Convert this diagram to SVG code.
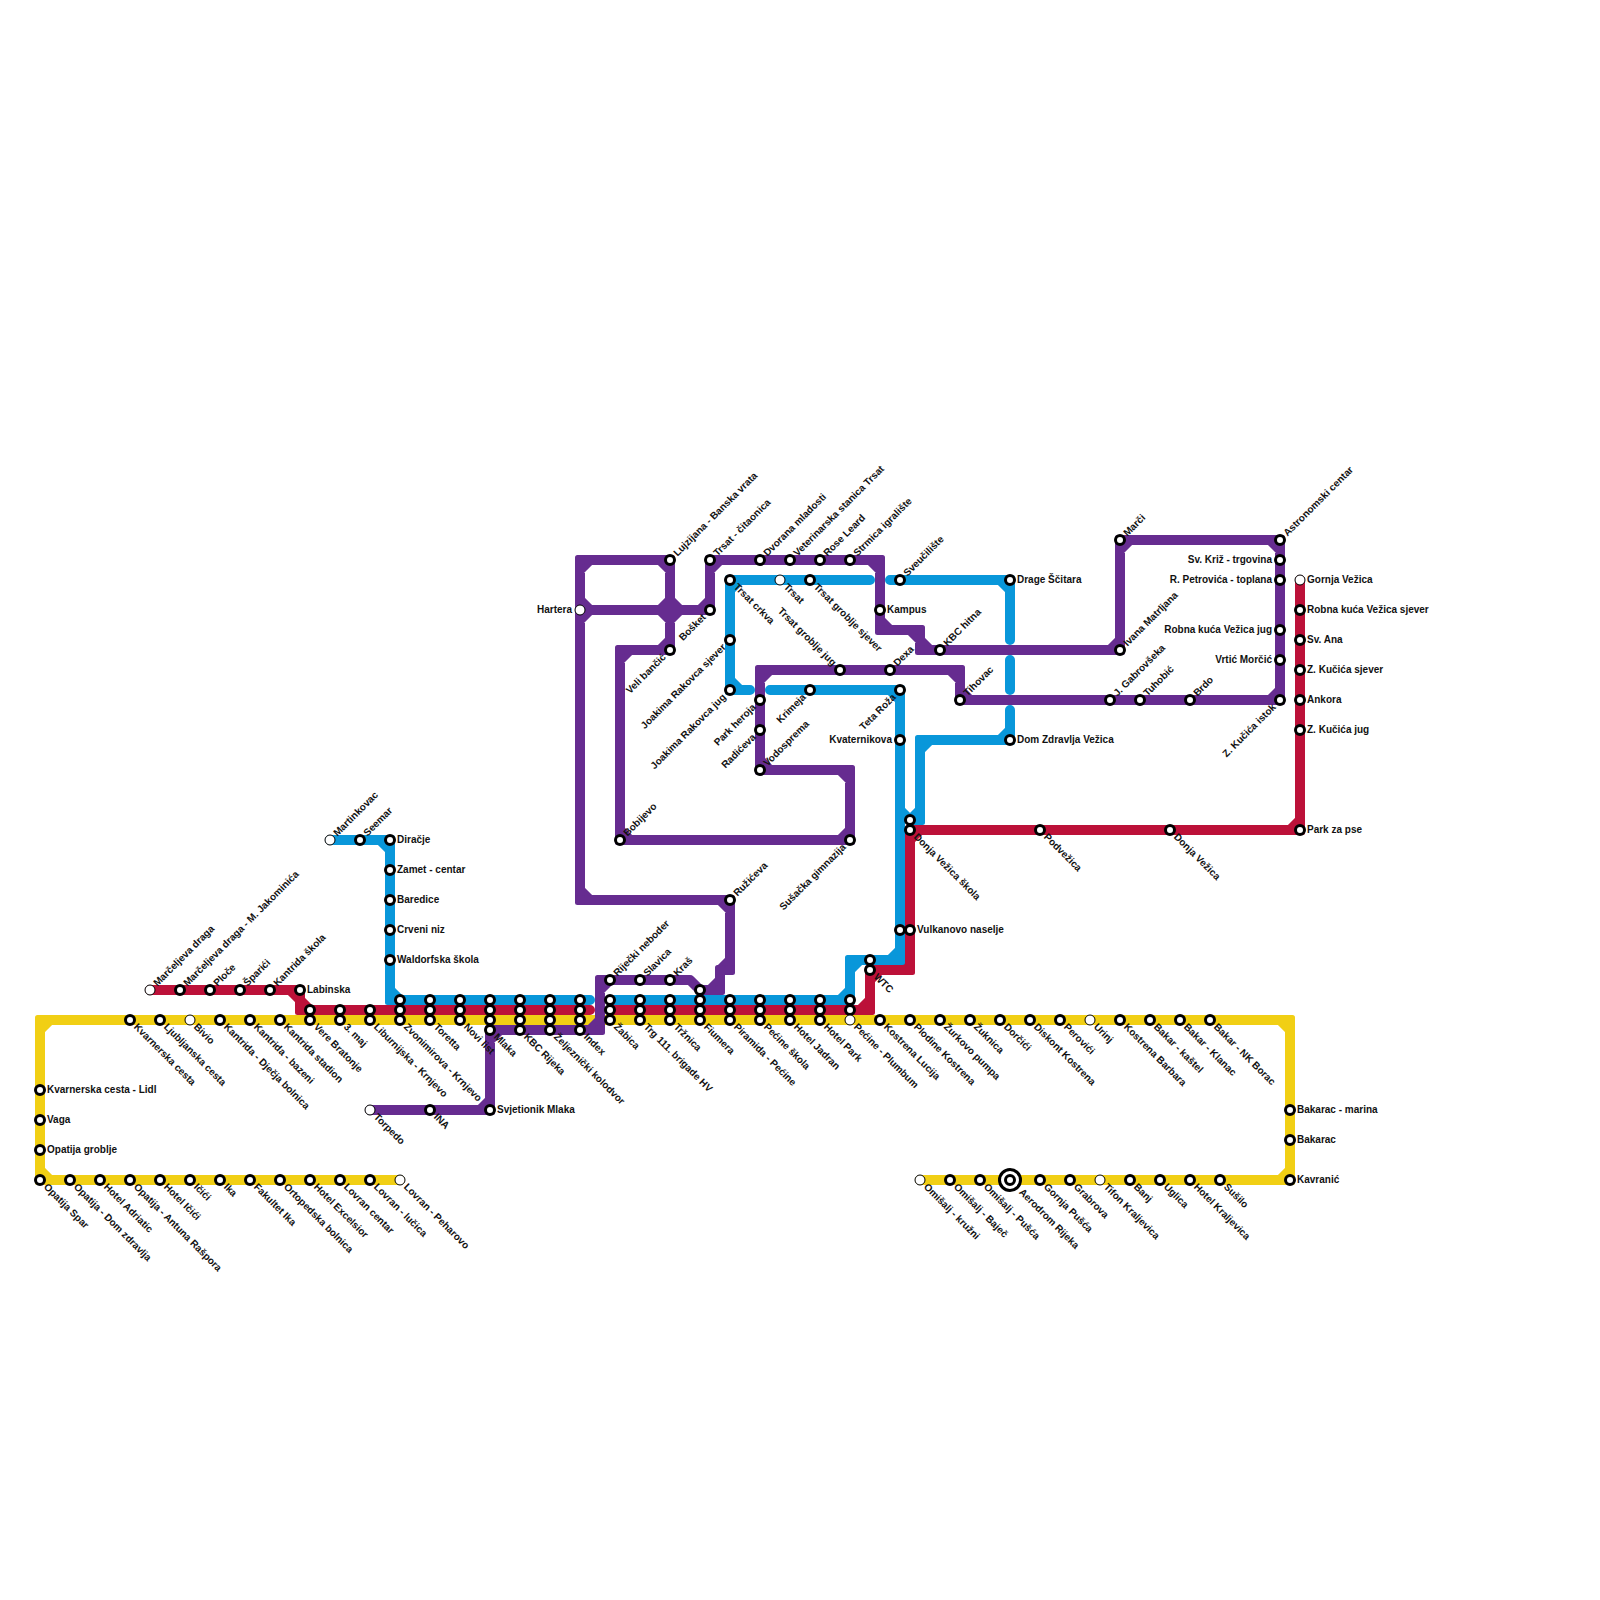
<svg xmlns="http://www.w3.org/2000/svg" width="1600" height="1600" viewBox="0 0 1600 1600">
<style>
.l{fill:none;stroke-width:10;stroke-linecap:round;stroke-linejoin:round}
.y{stroke:#f1cf14}.r{stroke:#bc1139}.b{stroke:#0997da}.p{stroke:#662c90}
.fy{fill:#f1cf14}.fr{fill:#bc1139}.fb{fill:#0997da}.fp{fill:#662c90}
.s{fill:#fff;stroke:#000;stroke-width:3}
.t{fill:#fff;stroke:#000;stroke-width:1}
text{font-family:"Liberation Sans",Arial,sans-serif;font-size:10px;font-weight:bold;fill:#111}
.e{text-anchor:end}
</style>
<defs>
<circle id="st" r="4.5" class="s"/>
<circle id="te" r="5" class="t"/>
<rect id="c" x="-5" y="-5" width="10" height="10" rx="2.5"/>
</defs>
<g id="connectors">
<g id="line-yellow" class="fy">
<path class="l y" d="M400 1180H40V1020H1290V1180H920M50 1180L40 1170M40 1030L50 1020M1280 1020L1290 1030M1290 1170L1280 1180"/>
<use href="#c" x="40" y="1020"/><use href="#c" x="1290" y="1020"/><use href="#c" x="40" y="1180"/><use href="#c" x="1290" y="1180"/>
</g>
<g id="line-red" class="fr">
<path class="l r" d="M150 990H300V1010H590M290 990L300 1000L310 1010M610 1010H870V970H910V830H1300V580M860 1010L870 1000M870 980L880 970M900 970L910 960M910 840L920 830M1290 830L1300 820"/>
<use href="#c" x="300" y="990"/><use href="#c" x="300" y="1010"/><use href="#c" x="870" y="1010"/><use href="#c" x="870" y="970"/><use href="#c" x="910" y="970"/><use href="#c" x="910" y="830"/><use href="#c" x="1300" y="830"/>
</g>
<g id="line-blue" class="fb">
<path class="l b" d="M330 840H390V1000H590M380 840L390 850M390 990L400 1000M610 1000H850V960H900V690H770M840 1000L850 990M850 970L860 960M890 960L900 950M890 690L900 700M750 690H730V580H870M730 680L740 690M730 590L740 580M890 580H1010V640M1000 580L1010 590M1010 660V690M1010 710V740H920V820H910L900 810M1000 740L1010 730M920 750L930 740M910 820L920 810"/>
<use href="#c" x="390" y="840"/><use href="#c" x="390" y="1000"/><use href="#c" x="850" y="1000"/><use href="#c" x="850" y="960"/><use href="#c" x="900" y="960"/><use href="#c" x="900" y="690"/><use href="#c" x="730" y="690"/><use href="#c" x="730" y="580"/><use href="#c" x="1010" y="580"/><use href="#c" x="1010" y="740"/><use href="#c" x="920" y="740"/><use href="#c" x="920" y="820"/>
</g>
<g id="line-purple" class="fp">
<path class="l p" d="M370 1110H490V1030H600V980H690L700 990H720V970H730V900H580V560H670V650H620V840H850V770H760V670H960V700H1280V540H1120V650H920V630H880V560H710V610H580M480 1110L490 1100M490 1040L500 1030M590 1030L600 1020M600 990L610 980M710 990L720 980M720 970L730 960M720 900L730 910M580 890L590 900M580 570L590 560M660 560L670 570M670 640L660 650M620 660L630 650M620 830L630 840M840 840L850 830M840 770L850 780M760 760L770 770M760 680L770 670M950 670L960 680M960 690L970 700M1270 700L1280 690M1270 540L1280 550M1120 550L1130 540M1110 650L1120 640M920 640L930 650M910 630L920 640M880 620L890 630M870 560L880 570M710 570L720 560M700 610L710 600M580 600L590 610M580 620L590 610M660 610L670 600L680 610L670 620Z"/>
<use href="#c" x="490" y="1110"/><use href="#c" x="490" y="1030"/><use href="#c" x="600" y="1030"/><use href="#c" x="600" y="980"/><use href="#c" x="720" y="990"/><use href="#c" x="720" y="970"/><use href="#c" x="730" y="970"/><use href="#c" x="730" y="900"/><use href="#c" x="580" y="900"/><use href="#c" x="580" y="560"/><use href="#c" x="670" y="560"/><use href="#c" x="670" y="650"/><use href="#c" x="620" y="650"/><use href="#c" x="620" y="840"/><use href="#c" x="850" y="840"/><use href="#c" x="850" y="770"/><use href="#c" x="760" y="770"/><use href="#c" x="760" y="670"/><use href="#c" x="960" y="670"/><use href="#c" x="960" y="700"/><use href="#c" x="1280" y="700"/><use href="#c" x="1280" y="540"/><use href="#c" x="1120" y="540"/><use href="#c" x="1120" y="650"/><use href="#c" x="920" y="650"/><use href="#c" x="920" y="630"/><use href="#c" x="880" y="630"/><use href="#c" x="880" y="560"/><use href="#c" x="710" y="560"/><use href="#c" x="710" y="610"/>
</g>
</g>
<g id="stations">
<use href="#te" x="150" y="990"/><use href="#st" x="180" y="990"/><use href="#st" x="210" y="990"/><use href="#st" x="240" y="990"/><use href="#st" x="270" y="990"/><use href="#st" x="300" y="990"/>
<use href="#te" x="330" y="840"/><use href="#st" x="360" y="840"/><use href="#st" x="390" y="840"/><use href="#st" x="390" y="870"/><use href="#st" x="390" y="900"/><use href="#st" x="390" y="930"/><use href="#st" x="390" y="960"/>
<use href="#st" x="130" y="1020"/><use href="#st" x="160" y="1020"/><use href="#te" x="190" y="1020"/><use href="#st" x="220" y="1020"/><use href="#st" x="250" y="1020"/><use href="#st" x="280" y="1020"/>
<use href="#st" x="310" y="1010"/><use href="#st" x="310" y="1020"/><use href="#st" x="340" y="1010"/><use href="#st" x="340" y="1020"/><use href="#st" x="370" y="1010"/><use href="#st" x="370" y="1020"/>
<use href="#st" x="400" y="1000"/><use href="#st" x="400" y="1010"/><use href="#st" x="400" y="1020"/>
<use href="#st" x="430" y="1000"/><use href="#st" x="430" y="1010"/><use href="#st" x="430" y="1020"/>
<use href="#st" x="460" y="1000"/><use href="#st" x="460" y="1010"/><use href="#st" x="460" y="1020"/>
<use href="#st" x="490" y="1000"/><use href="#st" x="490" y="1010"/><use href="#st" x="490" y="1020"/><use href="#st" x="490" y="1030"/>
<use href="#st" x="520" y="1000"/><use href="#st" x="520" y="1010"/><use href="#st" x="520" y="1020"/><use href="#st" x="520" y="1030"/>
<use href="#st" x="550" y="1000"/><use href="#st" x="550" y="1010"/><use href="#st" x="550" y="1020"/><use href="#st" x="550" y="1030"/>
<use href="#st" x="580" y="1000"/><use href="#st" x="580" y="1010"/><use href="#st" x="580" y="1020"/><use href="#st" x="580" y="1030"/>
<use href="#st" x="610" y="1000"/><use href="#st" x="610" y="1010"/><use href="#st" x="610" y="1020"/>
<use href="#st" x="640" y="1000"/><use href="#st" x="640" y="1010"/><use href="#st" x="640" y="1020"/>
<use href="#st" x="670" y="1000"/><use href="#st" x="670" y="1010"/><use href="#st" x="670" y="1020"/>
<use href="#st" x="700" y="990"/><use href="#st" x="700" y="1000"/><use href="#st" x="700" y="1010"/><use href="#st" x="700" y="1020"/>
<use href="#st" x="730" y="1000"/><use href="#st" x="730" y="1010"/><use href="#st" x="730" y="1020"/>
<use href="#st" x="760" y="1000"/><use href="#st" x="760" y="1010"/><use href="#st" x="760" y="1020"/>
<use href="#st" x="790" y="1000"/><use href="#st" x="790" y="1010"/><use href="#st" x="790" y="1020"/>
<use href="#st" x="820" y="1000"/><use href="#st" x="820" y="1010"/><use href="#st" x="820" y="1020"/>
<use href="#st" x="850" y="1000"/><use href="#st" x="850" y="1010"/><use href="#te" x="850" y="1020"/>
<use href="#st" x="880" y="1020"/><use href="#st" x="910" y="1020"/><use href="#st" x="940" y="1020"/><use href="#st" x="970" y="1020"/><use href="#st" x="1000" y="1020"/><use href="#st" x="1030" y="1020"/><use href="#st" x="1060" y="1020"/><use href="#te" x="1090" y="1020"/><use href="#st" x="1120" y="1020"/><use href="#st" x="1150" y="1020"/><use href="#st" x="1180" y="1020"/><use href="#st" x="1210" y="1020"/>
<use href="#st" x="1290" y="1110"/><use href="#st" x="1290" y="1140"/><use href="#st" x="1290" y="1180"/>
<use href="#te" x="920" y="1180"/><use href="#st" x="950" y="1180"/><use href="#st" x="980" y="1180"/>
<g id="aerodrom"><circle cx="1010" cy="1180" r="10.5" fill="#fff" stroke="#000" stroke-width="3"/><circle cx="1010" cy="1180" r="4.5" class="s"/></g>
<use href="#st" x="1040" y="1180"/><use href="#st" x="1070" y="1180"/><use href="#te" x="1100" y="1180"/><use href="#st" x="1130" y="1180"/><use href="#st" x="1160" y="1180"/><use href="#st" x="1190" y="1180"/><use href="#st" x="1220" y="1180"/>
<use href="#st" x="40" y="1090"/><use href="#st" x="40" y="1120"/><use href="#st" x="40" y="1150"/><use href="#st" x="40" y="1180"/>
<use href="#st" x="70" y="1180"/><use href="#st" x="100" y="1180"/><use href="#st" x="130" y="1180"/><use href="#st" x="160" y="1180"/><use href="#st" x="190" y="1180"/><use href="#st" x="220" y="1180"/><use href="#st" x="250" y="1180"/><use href="#st" x="280" y="1180"/><use href="#st" x="310" y="1180"/><use href="#st" x="340" y="1180"/><use href="#st" x="370" y="1180"/><use href="#te" x="400" y="1180"/>
<use href="#te" x="370" y="1110"/><use href="#st" x="430" y="1110"/><use href="#st" x="490" y="1110"/>
<use href="#st" x="610" y="980"/><use href="#st" x="640" y="980"/><use href="#st" x="670" y="980"/><use href="#st" x="730" y="900"/>
<use href="#st" x="620" y="840"/><use href="#st" x="850" y="840"/><use href="#st" x="760" y="770"/><use href="#st" x="760" y="730"/><use href="#st" x="760" y="700"/>
<use href="#st" x="840" y="670"/><use href="#st" x="890" y="670"/><use href="#st" x="960" y="700"/><use href="#st" x="1110" y="700"/><use href="#st" x="1140" y="700"/><use href="#st" x="1190" y="700"/><use href="#st" x="1280" y="700"/><use href="#st" x="1280" y="660"/><use href="#st" x="1280" y="630"/><use href="#st" x="1280" y="580"/><use href="#st" x="1280" y="560"/><use href="#st" x="1280" y="540"/><use href="#st" x="1120" y="540"/><use href="#st" x="1120" y="650"/><use href="#st" x="940" y="650"/><use href="#st" x="880" y="610"/>
<use href="#st" x="850" y="560"/><use href="#st" x="820" y="560"/><use href="#st" x="790" y="560"/><use href="#st" x="760" y="560"/><use href="#st" x="710" y="560"/><use href="#st" x="710" y="610"/><use href="#te" x="580" y="610"/><use href="#st" x="670" y="560"/><use href="#st" x="670" y="650"/>
<use href="#st" x="730" y="580"/><use href="#te" x="780" y="580"/><use href="#st" x="810" y="580"/><use href="#st" x="730" y="640"/><use href="#st" x="730" y="690"/><use href="#st" x="810" y="690"/><use href="#st" x="900" y="690"/><use href="#st" x="900" y="740"/><use href="#st" x="900" y="930"/><use href="#st" x="910" y="930"/><use href="#st" x="870" y="960"/><use href="#st" x="870" y="970"/><use href="#st" x="910" y="820"/><use href="#st" x="910" y="830"/>
<use href="#st" x="900" y="580"/><use href="#st" x="1010" y="580"/><use href="#st" x="1010" y="740"/>
<use href="#st" x="1040" y="830"/><use href="#st" x="1170" y="830"/><use href="#st" x="1300" y="830"/><use href="#st" x="1300" y="730"/><use href="#st" x="1300" y="700"/><use href="#st" x="1300" y="670"/><use href="#st" x="1300" y="640"/><use href="#st" x="1300" y="610"/><use href="#te" x="1300" y="580"/>
</g>
<g id="labels-right">
<text x="47" y="1093">Kvarnerska cesta - Lidl</text><text x="47" y="1123">Vaga</text><text x="47" y="1153">Opatija groblje</text>
<text x="307" y="993">Labinska</text><text x="397" y="843">Diračje</text><text x="397" y="873">Zamet - centar</text><text x="397" y="903">Baredice</text><text x="397" y="933">Crveni niz</text><text x="397" y="963">Waldorfska škola</text>
<text x="497" y="1113">Svjetionik Mlaka</text><text x="887" y="613">Kampus</text><text x="1017" y="583">Drage Ščitara</text><text x="1017" y="743">Dom Zdravlja Vežica</text><text x="917" y="933">Vulkanovo naselje</text>
<text x="1307" y="583">Gornja Vežica</text><text x="1307" y="613">Robna kuća Vežica sjever</text><text x="1307" y="643">Sv. Ana</text><text x="1307" y="673">Z. Kučića sjever</text><text x="1307" y="703">Ankora</text><text x="1307" y="733">Z. Kučića jug</text><text x="1307" y="833">Park za pse</text>
<text x="1297" y="1113">Bakarac - marina</text><text x="1297" y="1143">Bakarac</text><text x="1297" y="1183">Kavranić</text>
</g>
<g id="labels-left">
<text class="e" x="572" y="613">Hartera</text><text class="e" x="892" y="743">Kvaternikova</text><text class="e" x="1272" y="563">Sv. Križ - trgovina</text><text class="e" x="1272" y="583">R. Petrovića - toplana</text><text class="e" x="1272" y="633">Robna kuća Vežica jug</text><text class="e" x="1272" y="663">Vrtić Morčić</text>
</g>
<g id="labels-up">
<text transform="translate(150 990) rotate(-45)" x="7.5" y="3">Marčeljeva draga</text>
<text transform="translate(180 990) rotate(-45)" x="7.5" y="3">Marčeljeva draga - M. Jakominića</text>
<text transform="translate(210 990) rotate(-45)" x="7.5" y="3">Ploče</text>
<text transform="translate(240 990) rotate(-45)" x="7.5" y="3">Šparići</text>
<text transform="translate(270 990) rotate(-45)" x="7.5" y="3">Kantrida škola</text>
<text transform="translate(330 840) rotate(-45)" x="7.5" y="3">Martinkovac</text>
<text transform="translate(360 840) rotate(-45)" x="7.5" y="3">Seemar</text>
<text transform="translate(610 980) rotate(-45)" x="7.5" y="3">Riječki neboder</text>
<text transform="translate(640 980) rotate(-45)" x="7.5" y="3">Slavica</text>
<text transform="translate(670 980) rotate(-45)" x="7.5" y="3">Kraš</text>
<text transform="translate(730 900) rotate(-45)" x="7.5" y="3">Ružićeva</text>
<text transform="translate(620 840) rotate(-45)" x="7.5" y="3">Bobijevo</text>
<text transform="translate(760 770) rotate(-45)" x="7.5" y="3">Vodosprema</text>
<text transform="translate(670 560) rotate(-45)" x="7.5" y="3">Lujzijana - Banska vrata</text>
<text transform="translate(710 560) rotate(-45)" x="7.5" y="3">Trsat - čitaonica</text>
<text transform="translate(760 560) rotate(-45)" x="7.5" y="3">Dvorana mladosti</text>
<text transform="translate(790 560) rotate(-45)" x="7.5" y="3">Veterinarska stanica Trsat</text>
<text transform="translate(820 560) rotate(-45)" x="7.5" y="3">Rose Leard</text>
<text transform="translate(850 560) rotate(-45)" x="7.5" y="3">Strmica igralište</text>
<text transform="translate(900 580) rotate(-45)" x="7.5" y="3">Sveučilište</text>
<text transform="translate(890 670) rotate(-45)" x="7.5" y="3">Dexa</text>
<text transform="translate(940 650) rotate(-45)" x="7.5" y="3">KBC hitna</text>
<text transform="translate(960 700) rotate(-45)" x="7.5" y="3">Tihovac</text>
<text transform="translate(1120 540) rotate(-45)" x="7.5" y="3">Marči</text>
<text transform="translate(1120 650) rotate(-45)" x="7.5" y="3">Ivana Matrljana</text>
<text transform="translate(1110 700) rotate(-45)" x="7.5" y="3">J. Gabrovšeka</text>
<text transform="translate(1140 700) rotate(-45)" x="7.5" y="3">Tuhobić</text>
<text transform="translate(1190 700) rotate(-45)" x="7.5" y="3">Brdo</text>
<text transform="translate(1280 540) rotate(-45)" x="7.5" y="3">Astronomski centar</text>
</g>
<g id="labels-up-left">
<text class="e" transform="translate(670 650) rotate(-45)" x="-8" y="3">Veli bančić</text>
<text class="e" transform="translate(710 610) rotate(-45)" x="-8" y="3">Bošket</text>
<text class="e" transform="translate(730 640) rotate(-45)" x="-8" y="3">Joakima Rakovca sjever</text>
<text class="e" transform="translate(730 690) rotate(-45)" x="-8" y="3">Joakima Rakovca jug</text>
<text class="e" transform="translate(760 700) rotate(-45)" x="-8" y="3">Park heroja</text>
<text class="e" transform="translate(760 730) rotate(-45)" x="-8" y="3">Radićeva</text>
<text class="e" transform="translate(810 690) rotate(-45)" x="-8" y="3">Krimeja</text>
<text class="e" transform="translate(900 690) rotate(-45)" x="-8" y="3">Teta Roža</text>
<text class="e" transform="translate(850 840) rotate(-45)" x="-8" y="3">Sušačka gimnazija</text>
<text class="e" transform="translate(1280 700) rotate(-45)" x="-8" y="3">Z. Kučića istok</text>
<text class="e" transform="translate(840 670) rotate(45)" x="-8" y="3">Trsat groblje jug</text>
</g>
<g id="labels-down">
<text transform="translate(130 1020) rotate(45)" x="7.5" y="3">Kvarnerska cesta</text>
<text transform="translate(160 1020) rotate(45)" x="7.5" y="3">Ljubljanska cesta</text>
<text transform="translate(190 1020) rotate(45)" x="7.5" y="3">Bivio</text>
<text transform="translate(220 1020) rotate(45)" x="7.5" y="3">Kantrida - Dječja bolnica</text>
<text transform="translate(250 1020) rotate(45)" x="7.5" y="3">Kantrida - bazeni</text>
<text transform="translate(280 1020) rotate(45)" x="7.5" y="3">Kantrida stadion</text>
<text transform="translate(310 1020) rotate(45)" x="7.5" y="3">Vere Bratonje</text>
<text transform="translate(340 1020) rotate(45)" x="7.5" y="3">3. maj</text>
<text transform="translate(370 1020) rotate(45)" x="7.5" y="3">Liburnijska - Krnjevo</text>
<text transform="translate(400 1020) rotate(45)" x="7.5" y="3">Zvonimirova - Krnjevo</text>
<text transform="translate(430 1020) rotate(45)" x="7.5" y="3">Toretta</text>
<text transform="translate(460 1020) rotate(45)" x="7.5" y="3">Novi list</text>
<text transform="translate(490 1030) rotate(45)" x="7.5" y="3">Mlaka</text>
<text transform="translate(520 1030) rotate(45)" x="7.5" y="3">KBC Rijeka</text>
<text transform="translate(550 1030) rotate(45)" x="7.5" y="3">Željeznički kolodvor</text>
<text transform="translate(580 1030) rotate(45)" x="7.5" y="3">Index</text>
<text transform="translate(610 1020) rotate(45)" x="7.5" y="3">Žabica</text>
<text transform="translate(640 1020) rotate(45)" x="7.5" y="3">Trg 111. brigade HV</text>
<text transform="translate(670 1020) rotate(45)" x="7.5" y="3">Tržnica</text>
<text transform="translate(700 1020) rotate(45)" x="7.5" y="3">Fiumera</text>
<text transform="translate(730 1020) rotate(45)" x="7.5" y="3">Piramida - Pećine</text>
<text transform="translate(760 1020) rotate(45)" x="7.5" y="3">Pećine škola</text>
<text transform="translate(790 1020) rotate(45)" x="7.5" y="3">Hotel Jadran</text>
<text transform="translate(820 1020) rotate(45)" x="7.5" y="3">Hotel Park</text>
<text transform="translate(850 1020) rotate(45)" x="7.5" y="3">Pećine - Plumbum</text>
<text transform="translate(880 1020) rotate(45)" x="7.5" y="3">Kostrena Lucija</text>
<text transform="translate(910 1020) rotate(45)" x="7.5" y="3">Plodine Kostrena</text>
<text transform="translate(940 1020) rotate(45)" x="7.5" y="3">Žurkovo pumpa</text>
<text transform="translate(970 1020) rotate(45)" x="7.5" y="3">Žuknica</text>
<text transform="translate(1000 1020) rotate(45)" x="7.5" y="3">Dorčići</text>
<text transform="translate(1030 1020) rotate(45)" x="7.5" y="3">Diskont Kostrena</text>
<text transform="translate(1060 1020) rotate(45)" x="7.5" y="3">Perovići</text>
<text transform="translate(1090 1020) rotate(45)" x="7.5" y="3">Urinj</text>
<text transform="translate(1120 1020) rotate(45)" x="7.5" y="3">Kostrena Barbara</text>
<text transform="translate(1150 1020) rotate(45)" x="7.5" y="3">Bakar - kaštel</text>
<text transform="translate(1180 1020) rotate(45)" x="7.5" y="3">Bakar - Klanac</text>
<text transform="translate(1210 1020) rotate(45)" x="7.5" y="3">Bakar - NK Borac</text>
<text transform="translate(40 1180) rotate(45)" x="7.5" y="3">Opatija Spar</text>
<text transform="translate(70 1180) rotate(45)" x="7.5" y="3">Opatija - Dom zdravlja</text>
<text transform="translate(100 1180) rotate(45)" x="7.5" y="3">Hotel Adriatic</text>
<text transform="translate(130 1180) rotate(45)" x="7.5" y="3">Opatija - Antuna Rašpora</text>
<text transform="translate(160 1180) rotate(45)" x="7.5" y="3">Hotel Ičići</text>
<text transform="translate(190 1180) rotate(45)" x="7.5" y="3">Ičići</text>
<text transform="translate(220 1180) rotate(45)" x="7.5" y="3">Ika</text>
<text transform="translate(250 1180) rotate(45)" x="7.5" y="3">Fakultet Ika</text>
<text transform="translate(280 1180) rotate(45)" x="7.5" y="3">Ortopedska bolnica</text>
<text transform="translate(310 1180) rotate(45)" x="7.5" y="3">Hotel Excelsior</text>
<text transform="translate(340 1180) rotate(45)" x="7.5" y="3">Lovran centar</text>
<text transform="translate(370 1180) rotate(45)" x="7.5" y="3">Lovran - lučica</text>
<text transform="translate(400 1180) rotate(45)" x="7.5" y="3">Lovran - Peharovo</text>
<text transform="translate(370 1110) rotate(45)" x="7.5" y="3">Torpedo</text>
<text transform="translate(430 1110) rotate(45)" x="7.5" y="3">INA</text>
<text transform="translate(920 1180) rotate(45)" x="7.5" y="3">Omišalj - kružni</text>
<text transform="translate(950 1180) rotate(45)" x="7.5" y="3">Omišalj - Baječ</text>
<text transform="translate(980 1180) rotate(45)" x="7.5" y="3">Omišalj - Pušća</text>
<text transform="translate(1010 1180) rotate(45)" x="15" y="3">Aerodrom Rijeka</text>
<text transform="translate(1040 1180) rotate(45)" x="7.5" y="3">Gornja Pušća</text>
<text transform="translate(1070 1180) rotate(45)" x="7.5" y="3">Grabrova</text>
<text transform="translate(1100 1180) rotate(45)" x="7.5" y="3">Tifon Kraljevica</text>
<text transform="translate(1130 1180) rotate(45)" x="7.5" y="3">Banj</text>
<text transform="translate(1160 1180) rotate(45)" x="7.5" y="3">Uglica</text>
<text transform="translate(1190 1180) rotate(45)" x="7.5" y="3">Hotel Kraljevica</text>
<text transform="translate(1220 1180) rotate(45)" x="7.5" y="3">Sušilo</text>
<text transform="translate(730 580) rotate(45)" x="7.5" y="3">Trsat crkva</text>
<text transform="translate(780 580) rotate(45)" x="7.5" y="3">Trsat</text>
<text transform="translate(810 580) rotate(45)" x="7.5" y="3">Trsat groblje sjever</text>
<text transform="translate(910 830) rotate(45)" x="7.5" y="3">Donja Vežica škola</text>
<text transform="translate(870 970) rotate(45)" x="7.5" y="3">WTC</text>
<text transform="translate(1040 830) rotate(45)" x="7.5" y="3">Podvežica</text>
<text transform="translate(1170 830) rotate(45)" x="7.5" y="3">Donja Vežica</text>
</g>
</svg>
